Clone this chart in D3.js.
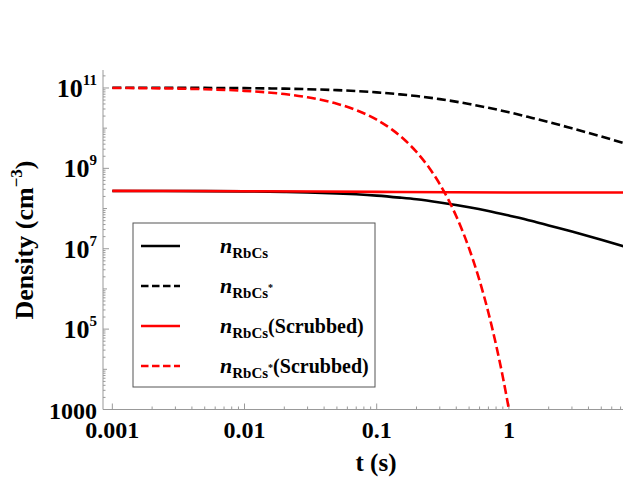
<!DOCTYPE html>
<html>
<head>
<meta charset="utf-8">
<script src="https://cdn.jsdelivr.net/npm/d3@7"></script>
<style>
  body { margin: 0; background: #fff; }
  text { font-family: "Liberation Serif", "Times New Roman", serif; font-weight: bold; }
</style>
</head>
<body>
<div id="chart"></div>
<script>
// time points (s)
var times = [0.001, 0.002, 0.005, 0.01, 0.02, 0.03, 0.05, 0.07, 0.1, 0.15, 0.2, 0.3, 0.5, 0.7, 1, 1.5, 2, 3, 5, 8];
// n_RbCs
var nRbCs = [2.74e8, 2.73e8, 2.71e8, 2.67e8, 2.59e8, 2.52e8, 2.38e8, 2.26e8, 2.10e8, 1.87e8, 1.70e8, 1.42e8, 1.08e8, 8.7e7, 6.7e7, 4.9e7, 3.8e7, 2.67e7, 1.67e7, 1.07e7];
// n_RbCs*
var nRbCsStar = [1.017e11, 1.014e11, 1.004e11, 9.89e10, 9.61e10, 9.33e10, 8.83e10, 8.39e10, 7.79e10, 6.94e10, 6.30e10, 5.28e10, 4.00e10, 3.21e10, 2.49e10, 1.80e10, 1.42e10, 9.9e9, 6.2e9, 3.95e9];
// n_RbCs (Scrubbed)
var scrubTimes = [0.001, 0.01, 0.1, 1, 8];
var nRbCsScrub = [2.75e8, 2.7e8, 2.6e8, 2.5e8, 2.5e8];
// n_RbCs* (Scrubbed)
var scrubStarTimes = [0.001, 0.002, 0.005, 0.01, 0.02, 0.03, 0.05, 0.07, 0.1, 0.13, 0.16, 0.2, 0.25, 0.3, 0.35, 0.4, 0.45, 0.5, 0.6, 0.7, 0.8, 0.9, 1.0];
var nRbCsStarScrub = [1.0e11, 9.84e10, 9.31e10, 8.49e10, 7.06e10, 5.87e10, 4.06e10, 2.81e10, 1.62e10, 9.31e9, 5.36e9, 2.56e9, 1.02e9, 4.06e8, 1.62e8, 6.44e7, 2.56e7, 1.02e7, 1.62e6, 2.56e5, 4.06e4, 6.44e3, 1.02e3];

var xTicks = [0.001, 0.01, 0.1, 1];
var xTickLabels = ["0.001", "0.01", "0.1", "1"];
var yTicks = [1e3, 1e5, 1e7, 1e9, 1e11];
var yTickExp = ["", "5", "7", "9", "11"];

var legendLabels = [
  {sub: "RbCs", star: false, extra: ""},
  {sub: "RbCs", star: true, extra: ""},
  {sub: "RbCs", star: false, extra: "(Scrubbed)"},
  {sub: "RbCs", star: true, extra: "(Scrubbed)"}
];

var W = 623, H = 491;
var pLeft = 103, pRight = 623, pTop = 70, pBottom = 409.5;
var axisColor = "#999";
var tickFont = 24, titleFont = 26, legendFont = 20;

var svg = d3.select("#chart")
  .append("svg")
    .attr("width", W)
    .attr("height", H);

var x = d3.scaleLog()
  .domain([0.00085, 7.3])
  .range([pLeft, pRight]);

var y = d3.scaleLog()
  .domain([1000, 2.8e11])
  .range([pBottom, pTop]);

svg.append("clipPath").attr("id", "plotclip")
  .append("rect")
    .attr("x", pLeft).attr("y", pTop - 5)
    .attr("width", pRight - pLeft + 5).attr("height", pBottom - pTop + 6);

// minor ticks
var xMinor = [];
[-3, -2, -1, 0].forEach(function(e) {
  for (var k = 2; k <= 9; k++) {
    var v = k * Math.pow(10, e);
    if (v < 7.3) xMinor.push(v);
  }
});
var yMinor = [];
[3, 4, 5, 6, 7, 8, 9, 10, 11].forEach(function(e) {
  for (var k = 1; k <= 9; k++) {
    var v = k * Math.pow(10, e);
    if (k == 1 && e % 2 == 1) continue;
    if (v <= 2.8e11) yMinor.push(v);
  }
});

// axes lines
svg.append("line")
  .attr("x1", pLeft).attr("x2", pRight)
  .attr("y1", pBottom).attr("y2", pBottom)
  .attr("stroke", axisColor).attr("stroke-width", 1);
svg.append("line")
  .attr("x1", pLeft).attr("x2", pLeft)
  .attr("y1", pTop).attr("y2", pBottom)
  .attr("stroke", axisColor).attr("stroke-width", 1);

// x ticks
svg.append("g").selectAll("line").data(xMinor).join("line")
  .attr("x1", d => x(d)).attr("x2", d => x(d))
  .attr("y1", pBottom).attr("y2", pBottom - 3)
  .attr("stroke", axisColor);
svg.append("g").selectAll("line").data(xTicks).join("line")
  .attr("x1", d => x(d)).attr("x2", d => x(d))
  .attr("y1", pBottom).attr("y2", pBottom - 6)
  .attr("stroke", axisColor);
svg.append("g").selectAll("text").data(xTicks).join("text")
  .attr("x", d => x(d))
  .attr("y", pBottom + 28)
  .attr("text-anchor", "middle")
  .attr("font-size", tickFont)
  .text((d, i) => xTickLabels[i]);

// y ticks
svg.append("g").selectAll("line").data(yMinor).join("line")
  .attr("x1", pLeft).attr("x2", d => pLeft + (Math.abs(Math.log10(d) % 1) < 1e-9 ? 4 : 2.5))
  .attr("y1", d => y(d)).attr("y2", d => y(d))
  .attr("stroke", axisColor);
svg.append("g").selectAll("line").data(yTicks).join("line")
  .attr("x1", pLeft).attr("x2", pLeft + 6)
  .attr("y1", d => y(d)).attr("y2", d => y(d))
  .attr("stroke", axisColor);
var ylab = svg.append("g").selectAll("text").data(yTicks).join("text")
  .attr("x", 97)
  .attr("y", d => y(d) + 9)
  .attr("text-anchor", "end")
  .attr("font-size", tickFont);
ylab.each(function(d, i) {
  var t = d3.select(this);
  if (yTickExp[i] == "") {
    t.text("1000");
  } else {
    t.append("tspan").attr("font-size", 26).text("10");
    t.append("tspan").attr("font-size", 15).attr("dy", -12).text(yTickExp[i]);
  }
});

// axis titles
svg.append("text")
  .attr("x", 376).attr("y", 471)
  .attr("text-anchor", "middle")
  .attr("font-size", 25)
  .text("t (s)");

var yt = svg.append("text")
  .attr("transform", "translate(33,240)rotate(-90)")
  .attr("text-anchor", "middle")
  .attr("font-size", titleFont);
yt.append("tspan").text("Density (cm");
yt.append("tspan").attr("font-size", 17).attr("dy", -11).text("\u22123");
yt.append("tspan").attr("dy", 11).text(")");

// curves
var line = d3.line()
  .x(d => x(d[0]))
  .y(d => y(d[1]))
  .curve(d3.curveMonotoneX);

var series = [
  {t: times, v: nRbCs, color: "#000", dash: null},
  {t: times, v: nRbCsStar, color: "#000", dash: "9,4"},
  {t: scrubTimes, v: nRbCsScrub, color: "#ff0000", dash: null},
  {t: scrubStarTimes, v: nRbCsStarScrub, color: "#ff0000", dash: "9,4"}
];

var plot = svg.append("g").attr("clip-path", "url(#plotclip)");
series.forEach(function(s) {
  plot.append("path")
    .datum(s.t.map((t, i) => [t, s.v[i]]))
    .attr("fill", "none")
    .attr("stroke", s.color)
    .attr("stroke-width", 2.6)
    .attr("stroke-dasharray", s.dash)
    .attr("d", line);
});

// legend
var lg = svg.append("g");
lg.append("rect")
  .attr("x", 133).attr("y", 223)
  .attr("width", 242).attr("height", 164)
  .attr("fill", "#fff")
  .attr("stroke", "#555")
  .attr("stroke-width", 1);

series.forEach(function(s, i) {
  var ly = 246 + i * 40;
  lg.append("line")
    .attr("x1", 141).attr("x2", 180)
    .attr("y1", ly).attr("y2", ly)
    .attr("stroke", s.color)
    .attr("stroke-width", 2.6)
    .attr("stroke-dasharray", s.dash ? "7.5,3.5" : null);
  var lab = legendLabels[i];
  var t = lg.append("text")
    .attr("x", 220).attr("y", ly + 7)
    .attr("font-size", legendFont);
  t.append("tspan").attr("font-style", "italic").attr("font-size", 22).text("n");
  t.append("tspan").attr("font-size", 15).attr("dy", 5).text(lab.sub);
  var back = 5;
  if (lab.star) {
    t.append("tspan").attr("font-size", 10).attr("dy", -7).text("*");
    back = -2;
  }
  if (lab.extra) {
    t.append("tspan").attr("dy", -back).text(lab.extra);
  }
});
</script>
</body>
</html>
